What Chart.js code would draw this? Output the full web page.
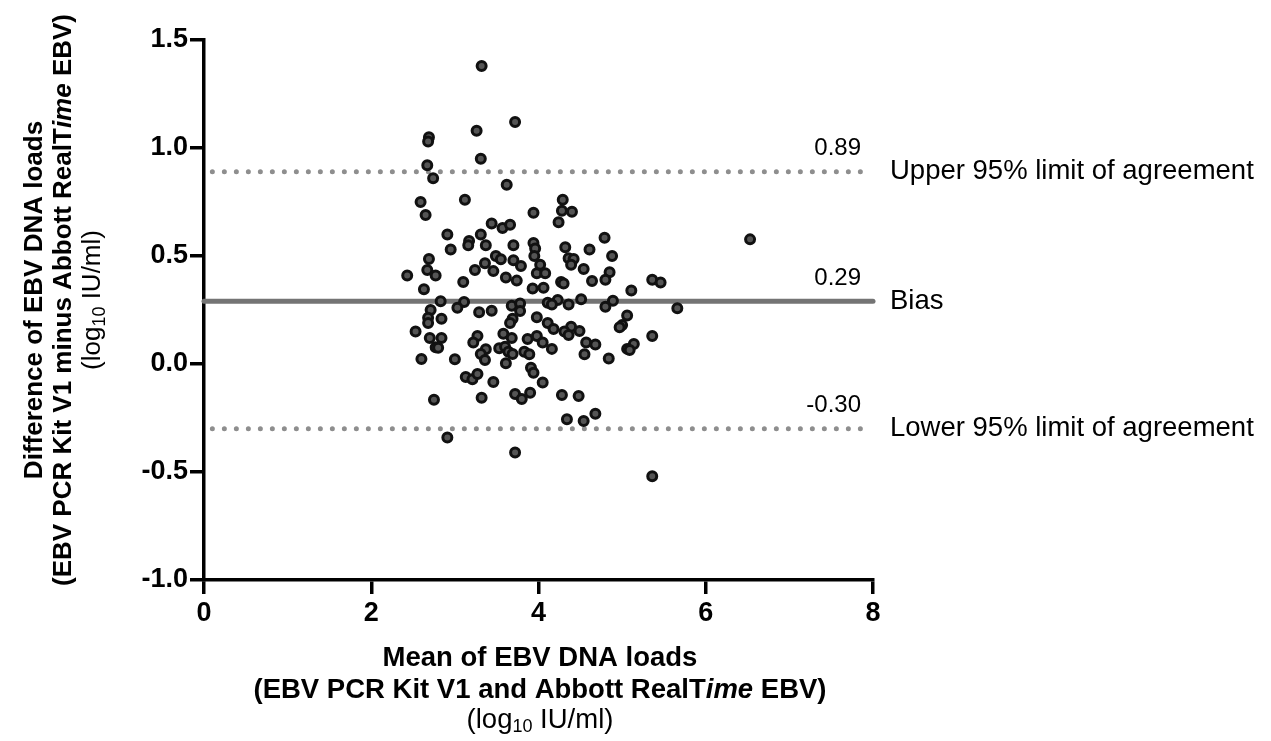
<!DOCTYPE html>
<html>
<head>
<meta charset="utf-8">
<script src="https://cdn.jsdelivr.net/npm/chart.js@4.4.1/dist/chart.umd.min.js"></script>
<style>
	body { margin: 0; background: #fff; }
	#chartjs-canvas-container { width: 1271px; height: 741px; }
</style>
</head>
<body>
<div id="chartjs-canvas-container"><canvas id="chartjs-canvas"></canvas></div>
<script>
// mean of the two assays (log10 IU/ml)
const meanLoads = [
	3.32, 3.72, 3.26, 2.69, 2.68, 3.31, 2.67, 2.74, 3.62, 2.59, 3.12, 2.65, 3.94, 3.44, 3.57, 3.66, 2.91, 3.31, 3.17, 3.16, 2.95, 3.37, 3.70, 3.94, 3.96,
	4.29, 4.28, 4.40, 4.24, 4.79, 4.32, 4.61,
	2.69, 3.49, 3.55, 3.36, 3.70, 3.79, 3.95, 2.67, 2.43, 2.77, 3.24, 3.46, 3.61, 3.74, 3.98, 3.10, 2.63, 3.93, 2.83, 3.11, 3.03, 2.71, 3.68, 3.78,
	3.78, 3.29, 3.44, 2.68, 2.84, 3.69, 3.66, 2.68, 3.98, 2.53, 2.70, 2.84, 3.27, 3.22, 3.58, 3.68, 3.87, 3.98, 2.77, 2.80, 3.37, 3.31, 3.36, 3.53,
	3.60, 3.64, 3.69, 3.83, 3.89, 2.60, 3.00, 3.61, 3.91, 3.94, 3.13, 3.21, 3.27, 3.46, 2.75, 3.32, 3.72, 3.80, 3.90, 2.91, 3.72,
	4.88, 4.36, 4.42, 4.39, 4.02, 4.08, 4.54, 4.85, 4.80, 4.64, 4.27, 4.30, 4.06, 5.36, 5.46, 5.11, 4.51, 4.23, 4.11, 4.16, 4.36, 4.89, 4.80, 5.66,
	5.06, 5.00, 4.97, 4.11, 4.18, 4.39, 4.31, 4.36, 4.49, 4.57, 4.68, 4.05, 4.16, 4.55, 4.84, 5.14, 5.06, 5.09, 5.36, 4.05, 4.28, 4.48, 4.34, 4.54, 4.68,
	6.53, 5.36
];
// difference (EBV PCR Kit V1 minus Abbott RealTime EBV)
const diffLoads = [
	1.38, 1.12, 1.08, 1.05, 1.03, 0.95, 0.92, 0.86, 0.83, 0.75, 0.76, 0.69, 0.70, 0.65, 0.63, 0.645, 0.60, 0.60, 0.57, 0.55, 0.53, 0.55, 0.55, 0.56, 0.535,
	0.76, 0.71, 0.705, 0.656, 0.585, 0.54, 0.53,
	0.486, 0.50, 0.485, 0.466, 0.48, 0.454, 0.50, 0.435, 0.41, 0.41, 0.435, 0.43, 0.40, 0.386, 0.42, 0.38, 0.346, 0.35, 0.29, 0.287, 0.26, 0.25, 0.27, 0.28,
	0.245, 0.24, 0.247, 0.214, 0.21, 0.21, 0.19, 0.19, 0.216, 0.15, 0.12, 0.12, 0.13, 0.10, 0.14, 0.12, 0.116, 0.13, 0.077, 0.075, 0.068, 0.046, 0.019, 0.073,
	0.08, 0.057, 0.046, 0.057, 0.045, 0.023, 0.022, 0.003, -0.017, -0.04, -0.06, -0.071, -0.046, -0.083, -0.165, -0.156, -0.139, -0.162, -0.133, -0.34, -0.41,
	0.50, 0.49, 0.486, 0.46, 0.46, 0.42, 0.44, 0.425, 0.39, 0.384, 0.38, 0.373, 0.353, 0.39, 0.377, 0.34, 0.30, 0.296, 0.284, 0.276, 0.276, 0.293, 0.265, 0.258,
	0.225, 0.18, 0.17, 0.19, 0.162, 0.173, 0.15, 0.134, 0.153, 0.10, 0.09, 0.10, 0.07, 0.045, 0.026, 0.093, 0.07, 0.065, 0.13, -0.086, -0.143, -0.148, -0.256, -0.264, -0.23,
	0.577, -0.52
];

const upperLimit = 0.89;
const bias = 0.29;
const lowerLimit = -0.30;
const limitNames = ['Upper 95% limit of agreement', 'Bias', 'Lower 95% limit of agreement'];
const lineRange = [0.1, 7.9];

const xTicks = [0, 2, 4, 6, 8];
const yTicks = [-1.0, -0.5, 0.0, 0.5, 1.0, 1.5];

const fontFamily = '"Liberation Sans", Arial, Helvetica, sans-serif';
const bold = size => `bold ${size}px ${fontFamily}`;
const boldItalic = size => `italic bold ${size}px ${fontFamily}`;
const plain = size => `${size}px ${fontFamily}`;

const titleLines = (size, word) => [
	[{text: word === 'and' ? 'Mean of EBV DNA loads' : 'Difference of EBV DNA loads', font: bold(size)}],
	[{text: `(EBV PCR Kit V1 ${word} Abbott RealT`, font: bold(size)}, {text: 'ime', font: boldItalic(size)}, {text: ' EBV)', font: bold(size)}],
	[{text: '(log', font: plain(size)}, {text: '10', font: plain(18), dy: 7}, {text: ' IU/ml)', font: plain(size)}]
];
const yTitle = titleLines(26, 'minus');
const xTitle = titleLines(27.5, 'and');

const drawRichLine = (ctx, parts, cx, cy) => {
	let total = 0;
	parts.forEach(p => { ctx.font = p.font; total += ctx.measureText(p.text).width; });
	let x = cx - total / 2;
	parts.forEach(p => {
		ctx.font = p.font;
		ctx.fillText(p.text, x, cy + (p.dy || 0));
		x += ctx.measureText(p.text).width;
	});
};

const labelsPlugin = {
	id: 'labels',
	afterDraw: chart => {
		const ctx = chart.ctx;
		const ys = chart.scales.y;
		ctx.save();
		ctx.fillStyle = '#000';
		ctx.textBaseline = 'middle';
		ctx.textAlign = 'left';

		// axis titles
		[35, 64, 93].forEach((cx, i) => {
			ctx.save();
			ctx.translate(cx, 300);
			ctx.rotate(-Math.PI / 2);
			drawRichLine(ctx, yTitle[i], 0, 0);
			ctx.restore();
		});
		[658, 690, 720].forEach((cy, i) => drawRichLine(ctx, xTitle[i], 540, cy));

		// limit values and names
		[upperLimit, bias, lowerLimit].forEach((v, i) => {
			const py = ys.getPixelForValue(v);
			ctx.font = plain(24);
			ctx.textAlign = 'right';
			ctx.fillText(v.toFixed(2), 861, py - 23);
			ctx.font = plain(27.5);
			ctx.textAlign = 'left';
			ctx.fillText(limitNames[i], 890, py);
		});
		ctx.restore();
	}
};

const limitLine = (value, dotted) => ({
	type: 'line',
	data: dotted ? lineRange.map(x => ({x, y: value})) : [{x: 0, y: value}, {x: 8, y: value}],
	borderColor: dotted ? '#8e8e8e' : '#747474',
	borderWidth: 5,
	borderDash: dotted ? [0, 12] : [],
	borderCapStyle: 'round',
	pointRadius: 0,
	clip: false,
	order: 2
});

const axisStyle = {
	grid: {display: true, drawOnChartArea: false, drawTicks: true, tickLength: 14, color: '#000', lineWidth: 3.5},
	border: {display: true, color: '#000', width: 3.5}
};

const config = {
	type: 'scatter',
	data: {
		datasets: [
			{
				data: meanLoads.map((x, i) => ({x, y: diffLoads[i]})),
				backgroundColor: '#555555',
				borderColor: '#111111',
				borderWidth: 3,
				pointRadius: 4.5,
				clip: false,
				order: 1
			},
			limitLine(upperLimit, true),
			limitLine(bias, false),
			limitLine(lowerLimit, true)
		]
	},
	options: {
		responsive: true,
		maintainAspectRatio: false,
		animation: false,
		layout: {padding: {top: 40, right: 398, left: 0, bottom: 0}},
		plugins: {legend: {display: false}, tooltip: {enabled: false}},
		scales: {
			x: {
				type: 'linear',
				min: 0,
				max: 8,
				afterBuildTicks: scale => { scale.ticks = xTicks.map(value => ({value})); },
				afterFit: scale => { scale.height = 161; },
				ticks: {color: '#000', font: {family: fontFamily, size: 27, weight: 'bold'}, padding: 3, maxRotation: 0},
				...axisStyle
			},
			y: {
				type: 'linear',
				min: -1,
				max: 1.5,
				afterBuildTicks: scale => { scale.ticks = yTicks.map(value => ({value})); },
				afterFit: scale => { scale.width = 204; },
				ticks: {color: '#000', font: {family: fontFamily, size: 27, weight: 'bold'}, padding: 2, callback: v => v.toFixed(1)},
				...axisStyle
			}
		}
	},
	plugins: [labelsPlugin]
};

new Chart(document.getElementById('chartjs-canvas'), config);
</script>
</body>
</html>
